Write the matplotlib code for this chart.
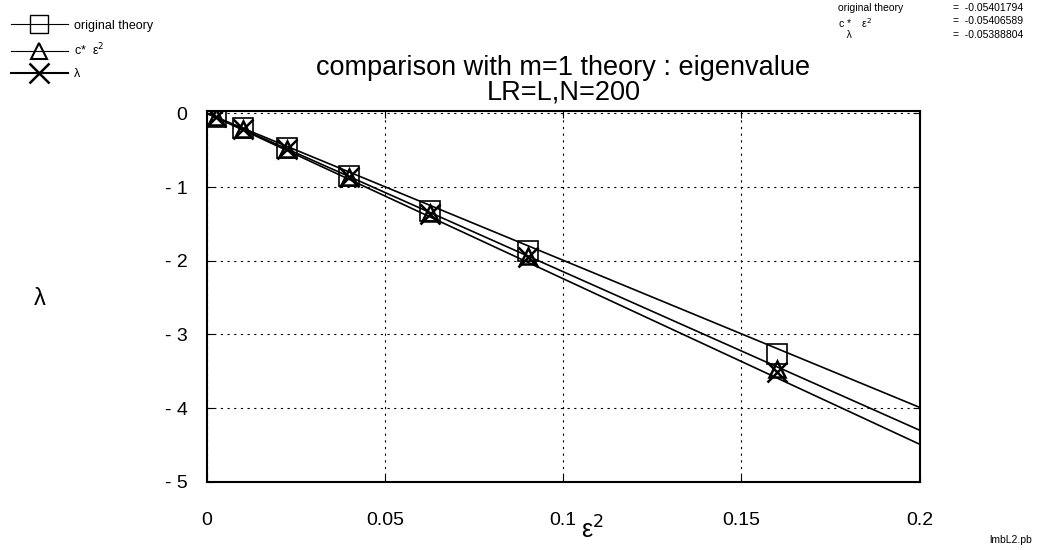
import numpy as np
import matplotlib
matplotlib.use('Agg')
import matplotlib.pyplot as plt

plt.rcParams['font.family'] = ['Liberation Sans', 'DejaVu Sans']
plt.rcParams['mathtext.fontset'] = 'dejavusans'

# eps^2 values of the data points
eps2 = [0.0025, 0.01, 0.0225, 0.04, 0.0625, 0.09, 0.16]
orig_theory = [-0.05, -0.20, -0.47, -0.85, -1.32, -1.87, -3.26]
c_eps2 = [-0.05, -0.21, -0.48, -0.86, -1.35, -1.93, -3.47]
lam = [-0.05, -0.21, -0.49, -0.87, -1.36, -1.95, -3.51]

# fitted straight lines, from 0 to 0.2
line_x = [0.0, 0.2]
line_orig = [0.0, -3.99]
line_c = [0.0, -4.30]
line_lam = [0.0, -4.49]

coef_names = ['original theory', 'c *    ε$^2$', '   λ']
coef_values = ['-0.05401794', '-0.05406589', '-0.05388804']

fig = plt.figure(figsize=(10.45, 5.5), dpi=100)
ax = fig.add_axes([0.198, 0.124, 0.682, 0.674])

ax.plot(line_x, line_orig, color='black', lw=1.2)
ax.plot(line_x, line_c, color='black', lw=1.2)
ax.plot(line_x, line_lam, color='black', lw=1.2)

ax.plot(eps2, orig_theory, ls='none', marker='s', ms=15, mfc='none', mec='black', mew=1.2)
ax.plot(eps2, c_eps2, ls='none', marker='^', ms=12, mfc='none', mec='black', mew=1.8)
ax.plot(eps2, lam, ls='none', marker='x', ms=15, color='black', mew=1.8)

ax.set_xlim(0, 0.2)
ax.set_ylim(-5, 0.03)
ax.set_xticks([0, 0.05, 0.1, 0.15, 0.2])
ax.set_xticklabels(['0', '0.05', '0.1', '0.15', '0.2'])
ax.set_yticks([0, -1, -2, -3, -4, -5])
ax.set_yticklabels(['0', '- 1', '- 2', '- 3', '- 4', '- 5'])
ax.tick_params(direction='in', length=5, labelsize=14, right=True, top=True)
ax.tick_params(axis='x', pad=22)
ax.tick_params(axis='y', pad=14)
ax.grid(True, color='black', ls=(0, (2, 4)), lw=0.8)
for s in ax.spines.values():
    s.set_linewidth(1.5)

ax.set_title('comparison with m=1 theory : eigenvalue\nLR=L,N=200', fontsize=19.5, linespacing=0.95, pad=8)
fig.text(0.556, 0.02, 'ε$^2$', fontsize=18, ha='left')
fig.text(0.038, 0.445, 'λ', fontsize=17, ha='center')

# legend made of lines with markers, top left
lh1 = plt.Line2D([], [], color='black', lw=0.8, marker='s', ms=13, mfc='none', mec='black')
lh2 = plt.Line2D([], [], color='black', lw=0.8, marker='^', ms=11, mfc='none', mec='black', mew=1.5)
lh3 = plt.Line2D([], [], color='black', lw=1.5, marker='x', ms=14, mew=1.8)
fig.legend([lh1, lh2, lh3], ['original theory', 'c*  ε$^2$', 'λ'], loc='upper left',
           bbox_to_anchor=(0.0, 0.985), frameon=False, fontsize=9, handlelength=4.5,
           labelspacing=0.8, handletextpad=0.5)

for i in range(3):
    fig.text(0.802, 0.995 - i * 0.025, coef_names[i], fontsize=7.5, va='top')
    fig.text(0.912, 0.995 - i * 0.025, '=  ' + coef_values[i], fontsize=7.5, va='top')

fig.text(0.947, 0.012, 'lmbL2.pb', fontsize=7.5)

fig.savefig('out.png', dpi=100)
